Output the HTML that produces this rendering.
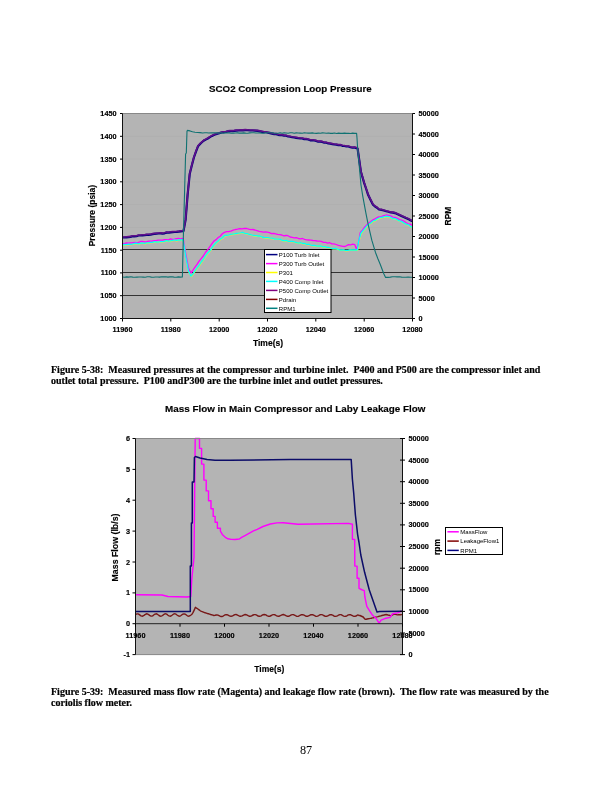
<!DOCTYPE html>
<html><head><meta charset="utf-8">
<style>
html,body{margin:0;padding:0;background:#fff;}
body{width:612px;height:792px;position:relative;overflow:hidden;}
svg{position:absolute;left:0;top:0;will-change:transform;}
.t{font-family:"Liberation Sans",sans-serif;font-weight:bold;fill:#000;stroke:#000;stroke-width:0.15px;}
.l{font-family:"Liberation Sans",sans-serif;fill:#000;}
.cap{position:absolute;left:51px;font-family:"Liberation Serif",serif;font-weight:bold;font-size:10px;line-height:11px;color:#000;white-space:nowrap;will-change:transform;-webkit-text-stroke:0.2px #000;}
.pg{position:absolute;will-change:transform;font-family:"Liberation Serif",serif;font-size:12px;color:#000;}
</style></head><body>
<svg width="612" height="792" viewBox="0 0 612 792">

<text class="t" x="290.4" y="92" font-size="9.78" text-anchor="middle">SCO2 Compression Loop Pressure</text>
<rect x="122.5" y="113.5" width="290.0" height="205.0" fill="#b4b4b4"/>
<line x1="122.5" y1="295.5" x2="412.5" y2="295.5" stroke="#333333" stroke-width="1"/>
<line x1="122.5" y1="272.5" x2="412.5" y2="272.5" stroke="#333333" stroke-width="1"/>
<line x1="122.5" y1="249.5" x2="412.5" y2="249.5" stroke="#333333" stroke-width="1"/>
<line x1="122.5" y1="227.4" x2="412.5" y2="227.4" stroke="#b0b0b0" stroke-width="1"/>
<line x1="122.5" y1="204.6" x2="412.5" y2="204.6" stroke="#b0b0b0" stroke-width="1"/>
<line x1="122.5" y1="181.8" x2="412.5" y2="181.8" stroke="#b0b0b0" stroke-width="1"/>
<line x1="122.5" y1="159.1" x2="412.5" y2="159.1" stroke="#b0b0b0" stroke-width="1"/>
<line x1="122.5" y1="136.3" x2="412.5" y2="136.3" stroke="#b0b0b0" stroke-width="1"/>
<g fill="none" stroke-linejoin="round">
<polyline points="122.5,244.9 124.5,244.5 126.5,244.6 128.5,244.2 130.5,244.3 132.5,244.1 134.5,243.4 136.5,243.2 138.5,243.8 140.5,243.1 142.5,242.9 144.5,243.5 146.5,242.8 148.5,242.9 150.5,242.4 152.5,242.4 154.5,241.7 156.5,242.0 158.5,242.1 160.5,241.6 162.5,241.6 164.5,241.4 166.5,240.6 168.5,241.1 170.5,240.8 172.5,240.3 174.5,239.8 176.5,240.5 178.5,239.9 180.5,240.0 182.5,239.6 183.5,242.0 186.0,258.0 188.5,271.0 191.0,276.2 193.0,273.8 195.0,270.9 197.0,268.0 199.1,265.5 201.2,262.0 203.3,259.5 205.4,256.2 207.5,253.3 209.7,251.0 211.8,248.1 214.0,245.0 216.1,242.7 218.2,240.9 220.2,239.1 222.3,238.0 224.4,235.7 226.4,235.3 228.5,235.1 230.5,234.4 232.5,234.2 234.6,233.8 236.6,233.4 238.6,233.2 240.7,232.9 242.7,232.4 244.9,233.3 247.1,233.6 249.3,234.4 251.4,234.8 253.6,235.5 255.8,235.7 258.0,236.0 260.0,236.0 262.1,237.0 264.1,237.5 266.1,237.7 268.1,237.7 270.2,238.2 272.2,238.1 274.2,239.0 276.3,239.1 278.3,239.1 280.3,239.3 282.4,240.4 284.4,240.8 286.4,240.3 288.4,241.3 290.5,241.3 292.5,241.4 294.5,241.8 296.6,242.6 298.6,243.1 300.6,242.6 302.6,243.5 304.7,243.3 306.7,244.3 308.7,244.2 310.8,245.1 312.8,245.5 314.8,245.4 316.9,246.2 318.9,245.9 320.9,246.0 322.9,246.8 325.0,246.6 327.0,247.4 329.0,247.5 331.1,248.1 333.1,248.6 335.2,248.5 337.2,248.8 339.3,250.0 341.3,250.0 343.5,249.8 345.7,250.5 347.9,250.4 350.0,249.9 352.2,250.0 354.4,250.0 356.6,250.0 357.4,249.8 358.6,241.4 361.0,233.0 363.0,230.7 365.0,228.3 367.0,225.8 369.0,224.3 371.0,222.7 373.0,221.0 375.0,220.4 377.0,219.0 379.0,218.0 381.4,217.3 383.8,217.0 386.2,216.2 388.4,216.5 390.6,217.2 392.8,218.5 395.0,218.6 397.2,219.7 399.4,220.8 401.6,221.4 403.8,222.9 405.9,224.1 408.1,224.6 410.3,226.3 412.5,227.3" transform="translate(0.2,0.3)" stroke="#ffff00" stroke-width="1.3"/>
<polyline points="122.5,243.6 124.5,243.6 126.5,242.8 128.5,243.2 130.5,242.9 132.5,242.9 134.5,242.4 136.5,242.6 138.5,242.4 140.5,241.5 142.5,241.4 144.5,241.8 146.5,241.9 148.5,241.1 150.5,241.1 152.5,241.0 154.5,240.6 156.5,240.5 158.5,240.2 160.5,240.1 162.5,240.2 164.5,239.7 166.5,239.6 168.5,239.8 170.5,238.9 172.5,239.3 174.5,239.2 176.5,238.6 178.5,238.4 180.5,238.8 182.5,238.3 183.3,239.0 185.9,254.6 188.5,268.4 191.1,273.0 194.1,268.4 197.0,264.4 199.1,261.2 201.2,258.6 203.3,256.0 205.4,252.5 207.5,250.0 209.7,246.8 211.8,243.8 214.0,241.0 216.1,239.6 218.2,237.5 220.2,236.2 222.3,233.8 224.4,232.4 226.6,231.7 228.8,231.5 230.9,231.2 233.1,230.2 235.3,229.5 237.5,229.2 239.8,228.6 242.1,228.9 244.4,228.4 246.7,228.5 248.8,229.2 250.8,229.7 252.9,229.5 254.9,230.0 257.0,230.7 259.1,231.4 261.1,231.6 263.2,232.1 265.3,232.0 267.3,232.2 269.4,232.7 271.5,233.6 273.6,233.4 275.6,233.8 277.7,234.3 279.8,234.6 281.8,235.0 283.9,235.9 286.0,235.5 288.0,235.7 290.1,237.0 292.2,237.3 294.2,237.8 296.3,237.6 298.4,238.5 300.5,238.8 302.5,238.5 304.6,239.3 306.7,239.8 308.7,240.0 310.8,240.2 312.9,240.5 315.0,240.6 317.1,241.0 319.2,241.2 321.3,241.4 323.5,242.3 325.6,242.3 327.7,243.1 329.8,242.7 331.9,243.9 334.0,243.8 336.2,244.5 338.4,245.3 340.6,245.8 342.8,246.4 345.0,246.5 348.5,244.7 350.6,244.8 352.7,244.2 354.8,244.7 356.6,249.2 358.3,244.0 360.3,232.5 362.5,230.2 364.8,227.0 367.0,224.8 369.0,222.9 371.0,221.6 373.0,219.8 375.0,218.8 377.0,217.7 379.0,216.8 381.4,216.6 383.8,215.7 386.2,215.0 388.4,215.4 390.6,215.9 392.8,217.1 395.0,217.3 397.2,218.3 399.4,219.6 401.6,220.2 403.8,221.1 405.9,222.5 408.1,223.8 410.3,224.1 412.5,225.5" stroke="#ff00ff" stroke-width="1.3"/>
<polyline points="122.5,244.9 124.5,244.5 126.5,244.6 128.5,244.2 130.5,244.3 132.5,244.1 134.5,243.4 136.5,243.2 138.5,243.8 140.5,243.1 142.5,242.9 144.5,243.5 146.5,242.8 148.5,242.9 150.5,242.4 152.5,242.4 154.5,241.7 156.5,242.0 158.5,242.1 160.5,241.6 162.5,241.6 164.5,241.4 166.5,240.6 168.5,241.1 170.5,240.8 172.5,240.3 174.5,239.8 176.5,240.5 178.5,239.9 180.5,240.0 182.5,239.6 183.5,242.0 186.0,258.0 188.5,271.0 191.0,276.2 193.0,273.8 195.0,270.9 197.0,268.0 199.1,265.5 201.2,262.0 203.3,259.5 205.4,256.2 207.5,253.3 209.7,251.0 211.8,248.1 214.0,245.0 216.1,242.7 218.2,240.9 220.2,239.1 222.3,238.0 224.4,235.7 226.4,235.3 228.5,235.1 230.5,234.4 232.5,234.2 234.6,233.8 236.6,233.4 238.6,233.2 240.7,232.9 242.7,232.4 244.9,233.3 247.1,233.6 249.3,234.4 251.4,234.8 253.6,235.5 255.8,235.7 258.0,236.0 260.0,236.0 262.1,237.0 264.1,237.5 266.1,237.7 268.1,237.7 270.2,238.2 272.2,238.1 274.2,239.0 276.3,239.1 278.3,239.1 280.3,239.3 282.4,240.4 284.4,240.8 286.4,240.3 288.4,241.3 290.5,241.3 292.5,241.4 294.5,241.8 296.6,242.6 298.6,243.1 300.6,242.6 302.6,243.5 304.7,243.3 306.7,244.3 308.7,244.2 310.8,245.1 312.8,245.5 314.8,245.4 316.9,246.2 318.9,245.9 320.9,246.0 322.9,246.8 325.0,246.6 327.0,247.4 329.0,247.5 331.1,248.1 333.1,248.6 335.2,248.5 337.2,248.8 339.3,250.0 341.3,250.0 343.5,249.8 345.7,250.5 347.9,250.4 350.0,249.9 352.2,250.0 354.4,250.0 356.6,250.0 357.4,249.8 358.6,241.4 361.0,233.0 363.0,230.7 365.0,228.3 367.0,225.8 369.0,224.3 371.0,222.7 373.0,221.0 375.0,220.4 377.0,219.0 379.0,218.0 381.4,217.3 383.8,217.0 386.2,216.2 388.4,216.5 390.6,217.2 392.8,218.5 395.0,218.6 397.2,219.7 399.4,220.8 401.6,221.4 403.8,222.9 405.9,224.1 408.1,224.6 410.3,226.3 412.5,227.3" stroke="#00ffff" stroke-width="1.3"/>
<polyline points="122.5,237.0 124.5,237.0 126.5,236.8 128.5,236.6 130.5,236.4 132.5,235.7 134.5,235.8 136.5,235.7 138.6,235.0 140.6,235.0 142.6,234.8 144.6,234.7 146.6,234.4 148.6,234.3 150.6,234.2 152.6,233.6 154.6,233.4 156.6,233.2 158.6,233.0 160.6,232.8 162.6,233.1 164.6,232.8 166.6,232.1 168.7,232.2 170.7,231.8 172.7,231.6 174.7,231.5 176.7,231.4 178.7,231.2 180.7,230.8 182.7,230.7 183.5,230.5 185.6,219.4 187.6,194.4 189.7,173.6 191.8,165.1 193.9,157.0 195.9,151.3 198.0,145.8 200.8,142.8 203.6,140.3 205.7,139.1 207.8,138.0 209.9,136.6 212.0,135.4 214.4,134.3 216.8,133.5 219.3,132.8 221.7,132.0 223.8,131.7 225.8,131.5 227.9,130.9 230.0,130.6 232.2,130.6 234.3,130.4 236.5,130.1 238.7,130.0 240.9,129.9 243.0,129.9 245.2,129.6 247.6,129.7 250.1,130.0 252.6,130.0 255.0,130.2 257.5,130.4 260.0,130.9 262.0,131.3 264.0,131.7 266.0,131.7 268.0,132.2 270.0,132.6 272.1,133.2 274.1,133.6 276.1,133.6 278.1,134.3 280.1,134.6 282.1,134.6 284.1,135.1 286.1,135.2 288.1,136.0 290.1,136.2 292.1,136.7 294.1,137.0 296.1,137.3 298.2,137.7 300.2,137.9 302.2,138.0 304.2,138.6 306.2,138.6 308.2,139.0 310.2,139.8 312.2,139.7 314.2,140.0 316.2,140.4 318.2,141.2 320.2,141.1 322.3,141.4 324.3,142.2 326.3,142.2 328.3,142.9 330.3,143.2 332.3,143.6 334.3,144.0 336.3,144.2 338.3,144.6 340.3,144.5 342.3,145.3 344.3,145.5 346.4,146.0 348.4,146.0 350.4,146.7 352.4,147.2 354.4,147.0 356.4,147.6 357.6,148.2 359.0,158.0 360.9,171.2 364.2,182.6 366.2,188.5 368.2,194.6 370.6,199.4 373.0,204.2 375.0,206.0 377.0,207.2 379.0,209.0 381.4,209.4 383.8,210.0 386.2,210.8 388.4,211.3 390.6,211.9 392.8,212.1 395.0,212.6 397.1,213.5 399.3,214.5 401.4,215.5 403.6,216.5 405.8,217.5 408.1,218.4 410.3,219.7 412.5,220.7" transform="translate(0,0.5)" stroke="#000080" stroke-width="2.2"/>
<polyline points="122.5,237.0 124.5,237.0 126.5,236.8 128.5,236.6 130.5,236.4 132.5,235.7 134.5,235.8 136.5,235.7 138.6,235.0 140.6,235.0 142.6,234.8 144.6,234.7 146.6,234.4 148.6,234.3 150.6,234.2 152.6,233.6 154.6,233.4 156.6,233.2 158.6,233.0 160.6,232.8 162.6,233.1 164.6,232.8 166.6,232.1 168.7,232.2 170.7,231.8 172.7,231.6 174.7,231.5 176.7,231.4 178.7,231.2 180.7,230.8 182.7,230.7 183.5,230.5 185.6,219.4 187.6,194.4 189.7,173.6 191.8,165.1 193.9,157.0 195.9,151.3 198.0,145.8 200.8,142.8 203.6,140.3 205.7,139.1 207.8,138.0 209.9,136.6 212.0,135.4 214.4,134.3 216.8,133.5 219.3,132.8 221.7,132.0 223.8,131.7 225.8,131.5 227.9,130.9 230.0,130.6 232.2,130.6 234.3,130.4 236.5,130.1 238.7,130.0 240.9,129.9 243.0,129.9 245.2,129.6 247.6,129.7 250.1,130.0 252.6,130.0 255.0,130.2 257.5,130.4 260.0,130.9 262.0,131.3 264.0,131.7 266.0,131.7 268.0,132.2 270.0,132.6 272.1,133.2 274.1,133.6 276.1,133.6 278.1,134.3 280.1,134.6 282.1,134.6 284.1,135.1 286.1,135.2 288.1,136.0 290.1,136.2 292.1,136.7 294.1,137.0 296.1,137.3 298.2,137.7 300.2,137.9 302.2,138.0 304.2,138.6 306.2,138.6 308.2,139.0 310.2,139.8 312.2,139.7 314.2,140.0 316.2,140.4 318.2,141.2 320.2,141.1 322.3,141.4 324.3,142.2 326.3,142.2 328.3,142.9 330.3,143.2 332.3,143.6 334.3,144.0 336.3,144.2 338.3,144.6 340.3,144.5 342.3,145.3 344.3,145.5 346.4,146.0 348.4,146.0 350.4,146.7 352.4,147.2 354.4,147.0 356.4,147.6 357.6,148.2 359.0,158.0 360.9,171.2 364.2,182.6 366.2,188.5 368.2,194.6 370.6,199.4 373.0,204.2 375.0,206.0 377.0,207.2 379.0,209.0 381.4,209.4 383.8,210.0 386.2,210.8 388.4,211.3 390.6,211.9 392.8,212.1 395.0,212.6 397.1,213.5 399.3,214.5 401.4,215.5 403.6,216.5 405.8,217.5 408.1,218.4 410.3,219.7 412.5,220.7" stroke="#60108a" stroke-width="1.6"/>
<polyline points="122.5,277.0 124.6,277.3 126.6,276.9 128.7,277.1 130.8,276.8 132.8,277.1 134.9,277.2 137.0,277.1 139.0,277.0 141.1,277.0 143.2,277.1 145.2,277.2 147.3,276.8 149.4,276.8 151.4,277.1 153.5,277.2 155.5,277.0 157.6,277.0 159.7,277.1 161.7,276.8 163.8,276.9 165.9,276.8 167.9,277.1 170.0,276.9 172.1,276.8 174.1,277.1 176.2,277.3 178.3,276.9 180.3,277.1 182.4,277.0 182.8,260.0 183.4,235.0 185.6,154.0 186.3,153.0 187.0,131.0 187.5,130.4 190.0,130.9 192.5,131.8 195.0,132.2 197.6,132.5 200.1,132.6 202.7,133.0 204.7,132.8 206.8,132.7 208.8,133.0 210.9,132.9 212.9,132.8 215.0,132.9 217.0,132.9 219.1,133.1 221.1,132.8 223.2,133.3 225.2,132.9 227.3,133.0 229.3,132.9 231.3,133.2 233.4,133.1 235.4,133.0 237.5,132.9 239.5,133.1 241.6,133.1 243.6,132.9 245.7,133.1 247.7,133.2 249.8,132.9 251.8,132.8 253.9,132.8 255.9,133.0 258.0,133.0 260.0,132.9 262.0,133.2 264.0,133.1 266.0,132.8 268.1,132.7 270.1,132.8 272.1,132.8 274.1,133.1 276.1,133.2 278.1,133.2 280.1,132.8 282.1,133.2 284.1,132.9 286.2,133.0 288.2,133.2 290.2,132.8 292.2,132.8 294.2,133.2 296.2,132.9 298.2,133.0 300.2,133.1 302.3,133.2 304.3,132.8 306.3,133.0 308.3,133.1 310.3,133.1 312.3,132.9 314.3,133.2 316.4,133.4 318.4,133.1 320.4,133.2 322.4,132.9 324.4,133.0 326.4,133.3 328.4,133.0 330.4,133.4 332.5,133.4 334.5,133.0 336.5,133.5 338.5,133.1 340.5,133.4 342.5,133.4 344.5,133.1 346.5,133.4 348.6,133.4 350.6,133.5 352.6,133.1 354.6,133.4 356.6,133.3 357.0,138.0 357.6,148.0 361.0,185.0 362.8,196.4 365.8,212.6 368.2,224.6 371.8,240.2 375.4,252.2 377.8,258.5 380.2,264.2 383.8,273.8 385.6,277.4 388.0,277.4 390.3,277.1 392.6,276.7 395.0,276.8 397.2,276.9 399.4,276.8 401.6,277.1 403.8,277.2 405.9,277.2 408.1,277.0 410.3,277.3 412.5,277.3" stroke="#107272" stroke-width="1.1"/>
</g>
<rect x="264.5" y="249.5" width="66.5" height="63" fill="#fff" stroke="#000" stroke-width="1"/>
<line x1="266" y1="254.6" x2="277.5" y2="254.6" stroke="#000080" stroke-width="1.5"/>
<text class="l" x="278.8" y="256.8" font-size="6">P100 Turb Inlet</text>
<line x1="266" y1="263.6" x2="277.5" y2="263.6" stroke="#ff00ff" stroke-width="1.5"/>
<text class="l" x="278.8" y="265.8" font-size="6">P300 Turb Outlet</text>
<line x1="266" y1="272.5" x2="277.5" y2="272.5" stroke="#ffff00" stroke-width="1.5"/>
<text class="l" x="278.8" y="274.7" font-size="6">P301</text>
<line x1="266" y1="281.4" x2="277.5" y2="281.4" stroke="#00ffff" stroke-width="1.5"/>
<text class="l" x="278.8" y="283.6" font-size="6">P400 Comp Inlet</text>
<line x1="266" y1="290.4" x2="277.5" y2="290.4" stroke="#800080" stroke-width="1.5"/>
<text class="l" x="278.8" y="292.6" font-size="6">P500 Comp Outlet</text>
<line x1="266" y1="299.4" x2="277.5" y2="299.4" stroke="#800000" stroke-width="1.5"/>
<text class="l" x="278.8" y="301.6" font-size="6">Pdrain</text>
<line x1="266" y1="308.3" x2="277.5" y2="308.3" stroke="#008080" stroke-width="1.5"/>
<text class="l" x="278.8" y="310.5" font-size="6">RPM1</text>
<path d="M122.5,113.5 H412.5" fill="none" stroke="#888" stroke-width="1"/>
<path d="M412.5,113.5 V318.5 H122.5 V113.5" fill="none" stroke="#111" stroke-width="1"/>
<text class="t" x="116.6" y="116.0" font-size="7.3" text-anchor="end">1450</text>
<text class="t" x="116.6" y="138.8" font-size="7.3" text-anchor="end">1400</text>
<text class="t" x="116.6" y="161.6" font-size="7.3" text-anchor="end">1350</text>
<text class="t" x="116.6" y="184.3" font-size="7.3" text-anchor="end">1300</text>
<text class="t" x="116.6" y="207.1" font-size="7.3" text-anchor="end">1250</text>
<text class="t" x="116.6" y="229.9" font-size="7.3" text-anchor="end">1200</text>
<text class="t" x="116.6" y="252.7" font-size="7.3" text-anchor="end">1150</text>
<text class="t" x="116.6" y="275.4" font-size="7.3" text-anchor="end">1100</text>
<text class="t" x="116.6" y="298.2" font-size="7.3" text-anchor="end">1050</text>
<text class="t" x="116.6" y="321.0" font-size="7.3" text-anchor="end">1000</text>
<text class="t" x="418.5" y="116.0" font-size="7.3">50000</text>
<text class="t" x="418.5" y="136.5" font-size="7.3">45000</text>
<text class="t" x="418.5" y="157.0" font-size="7.3">40000</text>
<text class="t" x="418.5" y="177.5" font-size="7.3">35000</text>
<text class="t" x="418.5" y="198.0" font-size="7.3">30000</text>
<text class="t" x="418.5" y="218.5" font-size="7.3">25000</text>
<text class="t" x="418.5" y="239.0" font-size="7.3">20000</text>
<text class="t" x="418.5" y="259.5" font-size="7.3">15000</text>
<text class="t" x="418.5" y="280.0" font-size="7.3">10000</text>
<text class="t" x="418.5" y="300.5" font-size="7.3">5000</text>
<text class="t" x="418.5" y="321.0" font-size="7.3">0</text>
<text class="t" x="122.5" y="332" font-size="7.3" text-anchor="middle">11960</text>
<text class="t" x="170.8" y="332" font-size="7.3" text-anchor="middle">11980</text>
<text class="t" x="219.2" y="332" font-size="7.3" text-anchor="middle">12000</text>
<text class="t" x="267.5" y="332" font-size="7.3" text-anchor="middle">12020</text>
<text class="t" x="315.8" y="332" font-size="7.3" text-anchor="middle">12040</text>
<text class="t" x="364.2" y="332" font-size="7.3" text-anchor="middle">12060</text>
<text class="t" x="412.5" y="332" font-size="7.3" text-anchor="middle">12080</text>
<path d="M120.0,113.5 H122.5 M120.0,136.3 H122.5 M120.0,159.1 H122.5 M120.0,181.8 H122.5 M120.0,204.6 H122.5 M120.0,227.4 H122.5 M120.0,250.2 H122.5 M120.0,272.9 H122.5 M120.0,295.7 H122.5 M120.0,318.5 H122.5 M412.5,113.5 H415.0 M412.5,134.0 H415.0 M412.5,154.5 H415.0 M412.5,175.0 H415.0 M412.5,195.5 H415.0 M412.5,216.0 H415.0 M412.5,236.5 H415.0 M412.5,257.0 H415.0 M412.5,277.5 H415.0 M412.5,298.0 H415.0 M412.5,318.5 H415.0 M122.5,318.5 V321.5 M170.8,318.5 V321.5 M219.2,318.5 V321.5 M267.5,318.5 V321.5 M315.8,318.5 V321.5 M364.2,318.5 V321.5 M412.5,318.5 V321.5" stroke="#000" stroke-width="1" fill="none"/>
<text class="t" x="268" y="345.5" font-size="8.5" text-anchor="middle">Time(s)</text>
<text class="t" transform="translate(94.6,215.6) rotate(-90)" font-size="8.5" text-anchor="middle">Pressure (psia)</text>
<text class="t" transform="translate(450.7,216) rotate(-90)" font-size="8.5" text-anchor="middle">RPM</text>
<text class="t" x="295.3" y="412" font-size="9.85" text-anchor="middle">Mass Flow in Main Compressor and Laby Leakage Flow</text>
<rect x="135.5" y="438.5" width="267.0" height="216.10000000000002" fill="#b4b4b4"/>
<g fill="none" stroke-linejoin="round">
<polyline points="136.0,614.4 137.0,613.9 138.0,613.9 139.0,614.4 140.0,615.1 141.0,615.9 142.0,616.2 143.0,616.0 144.0,615.4 145.0,614.6 146.0,614.0 147.0,613.8 148.0,614.2 149.0,614.9 150.0,615.7 151.0,616.1 152.0,616.1 153.0,615.6 154.0,614.8 155.0,614.1 156.0,613.8 157.0,614.0 158.0,614.7 159.0,615.5 160.0,616.0 161.0,616.2 162.0,615.8 163.0,615.1 164.0,614.3 165.0,613.8 166.0,613.9 167.0,614.4 168.0,615.2 169.0,615.9 170.0,616.2 171.0,616.0 172.0,615.3 173.0,614.5 174.0,613.9 175.0,613.8 176.0,614.2 177.0,615.0 178.0,615.7 179.0,616.2 180.0,616.1 181.0,615.5 182.0,614.7 183.0,614.1 184.0,613.8 185.0,614.1 186.0,614.7 187.0,615.5 188.0,616.1 189.0,616.2 190.0,615.7 191.0,615.0 192.0,614.2 193.1,612.4 194.3,609.9 195.4,607.3 196.6,608.2 197.9,609.0 199.1,609.9 200.3,610.8 201.5,611.3 202.8,611.8 204.0,612.3 205.2,612.8 206.3,613.1 207.4,613.5 208.5,613.8 209.6,614.1 210.6,614.5 211.7,614.8 212.8,615.1 213.9,615.5 215.0,615.4 216.0,615.0 217.0,614.9 218.0,615.1 219.0,615.6 220.0,616.2 221.0,616.5 222.0,616.5 223.0,616.1 224.0,615.5 225.0,614.9 226.0,614.6 227.0,614.7 228.0,615.1 229.0,615.7 230.0,616.1 231.0,616.3 232.0,616.1 233.0,615.6 234.0,615.0 235.0,614.6 236.0,614.5 237.0,614.8 238.1,615.4 239.1,615.9 240.1,616.3 241.1,616.2 242.1,615.9 243.1,615.3 244.1,614.8 245.1,614.5 246.1,614.7 247.1,615.1 248.1,615.7 249.1,616.2 250.1,616.3 251.1,616.1 252.2,615.5 253.2,615.0 254.2,614.6 255.2,614.6 256.2,614.9 257.2,615.5 258.2,616.0 259.2,616.3 260.2,616.2 261.2,615.8 262.2,615.2 263.2,614.7 264.2,614.5 265.2,614.7 266.3,615.2 267.3,615.8 268.3,616.2 269.3,616.3 270.3,616.0 271.3,615.5 272.3,614.9 273.3,614.6 274.3,614.6 275.3,615.0 276.3,615.6 277.3,616.1 278.3,616.3 279.3,616.2 280.3,615.7 281.4,615.2 282.4,614.7 283.4,614.5 284.4,614.8 285.4,615.3 286.4,615.9 287.4,616.3 288.4,616.3 289.4,616.0 290.4,615.4 291.4,614.9 292.4,614.6 293.4,614.6 294.4,615.1 295.5,615.7 296.5,616.2 297.5,616.4 298.5,616.2 299.5,615.7 300.5,615.1 301.5,614.7 302.5,614.6 303.5,614.9 304.5,615.4 305.5,616.0 306.5,616.3 307.5,616.3 308.5,615.9 309.6,615.3 310.6,614.8 311.6,614.6 312.6,614.7 313.6,615.2 314.6,615.7 315.6,616.2 316.6,616.4 317.6,616.1 318.6,615.6 319.6,615.0 320.6,614.6 321.6,614.6 322.6,614.9 323.6,615.5 324.7,616.0 325.7,616.4 326.7,616.3 327.7,615.9 328.7,615.3 329.7,614.8 330.7,614.6 331.7,614.8 332.7,615.2 333.7,615.8 334.7,616.3 335.7,616.4 336.7,616.1 337.7,615.6 338.8,615.0 339.8,614.6 340.8,614.6 341.8,615.0 342.8,615.6 343.8,616.1 344.8,616.4 345.8,616.3 346.8,615.8 347.8,615.2 348.8,614.8 349.8,614.6 350.8,614.8 351.8,615.3 352.9,615.9 353.9,616.3 354.9,616.4 355.9,616.0 356.9,615.5 357.9,614.9 358.9,615.5 359.9,615.5 361.0,616.0 362.1,616.5 363.2,617.0 364.2,618.2 365.2,619.4 366.2,619.2 367.2,619.0 368.2,618.8 369.3,618.6 370.3,618.4 371.3,618.2 372.4,617.9 373.5,617.7 374.6,617.4 375.7,617.1 376.8,616.9 377.9,616.6 378.9,616.3 379.9,616.1 380.9,615.8 381.9,615.5 383.0,615.3 384.0,615.0 385.0,614.8 386.0,614.5 387.0,614.7 388.0,615.0 389.0,615.2 390.0,615.5 391.0,615.7 392.1,615.2 393.1,614.6 394.2,614.1 395.3,614.4 396.4,614.6 397.5,614.9 398.5,614.8 399.5,614.7 400.5,614.7 401.5,614.6 402.5,614.5" stroke="#781818" stroke-width="1.4"/>
<polyline points="136.0,594.8 162.0,595.0 168.0,596.5 187.0,597.0 190.8,596.5 191.8,579.0 194.0,557.5 195.2,438.5 199.5,438.5 199.5,448.4 201.6,448.4 201.6,464.1 203.9,464.1 203.9,480.1 206.2,480.1 206.2,490.9 208.5,490.9 208.5,500.7 211.0,500.7 211.0,508.8 213.2,508.8 213.2,516.4 215.1,516.4 215.1,522.3 217.4,522.3 217.4,528.2 220.4,528.2 220.4,531.1 222.3,534.4 225.3,537.3 228.0,538.8 231.1,539.4 235.0,539.5 239.3,539.0 241.6,537.4 245.0,535.6 249.0,533.4 253.0,531.2 257.2,529.3 263.0,526.5 270.3,524.0 277.0,522.9 283.3,522.7 298.0,524.2 348.5,523.4 352.4,524.2 352.4,539.2 354.7,539.5 354.8,566.1 357.1,566.1 357.1,578.2 359.0,578.2 359.0,588.3 362.4,590.0 364.3,590.6 364.8,596.5 366.8,606.3 369.3,610.4 372.6,615.3 376.2,618.6 379.1,623.1 381.1,620.2 386.0,618.2 390.1,617.4 392.6,613.7 397.5,612.9 402.5,610.8" stroke="#ff00ff" stroke-width="1.4"/>
<polyline points="136.0,611.5 190.3,611.5 190.3,566.0 191.4,566.0 191.4,523.0 192.3,523.0 192.3,482.0 194.0,482.0 194.4,457.5 195.5,456.5 200.0,458.0 207.0,459.5 215.0,460.3 230.0,460.3 290.0,459.6 351.2,459.6 352.4,479.2 353.7,493.0 355.4,515.0 356.7,526.4 357.6,534.3 359.0,542.5 360.8,555.0 364.6,572.3 369.3,590.0 377.0,612.0 379.5,611.6 402.5,611.2" stroke="#0c0c68" stroke-width="1.5"/>
</g>
<path d="M135.5,438.5 H402.5 M135.5,654.6 H402.5" fill="none" stroke="#888" stroke-width="1"/>
<path d="M135.5,623.7 H402.5" fill="none" stroke="#222" stroke-width="1"/>
<path d="M135.5,438.5 V654.6 M402.5,438.5 V654.6" fill="none" stroke="#111" stroke-width="1"/>
<text class="t" x="130" y="441.0" font-size="7.3" text-anchor="end">6</text>
<text class="t" x="130" y="471.9" font-size="7.3" text-anchor="end">5</text>
<text class="t" x="130" y="502.7" font-size="7.3" text-anchor="end">4</text>
<text class="t" x="130" y="533.6" font-size="7.3" text-anchor="end">3</text>
<text class="t" x="130" y="564.5" font-size="7.3" text-anchor="end">2</text>
<text class="t" x="130" y="595.4" font-size="7.3" text-anchor="end">1</text>
<text class="t" x="130" y="626.2" font-size="7.3" text-anchor="end">0</text>
<text class="t" x="130" y="657.1" font-size="7.3" text-anchor="end">-1</text>
<text class="t" x="408.5" y="441.0" font-size="7.3">50000</text>
<text class="t" x="408.5" y="462.6" font-size="7.3">45000</text>
<text class="t" x="408.5" y="484.2" font-size="7.3">40000</text>
<text class="t" x="408.5" y="505.8" font-size="7.3">35000</text>
<text class="t" x="408.5" y="527.4" font-size="7.3">30000</text>
<text class="t" x="408.5" y="549.0" font-size="7.3">25000</text>
<text class="t" x="408.5" y="570.7" font-size="7.3">20000</text>
<text class="t" x="408.5" y="592.3" font-size="7.3">15000</text>
<text class="t" x="408.5" y="613.9" font-size="7.3">10000</text>
<text class="t" x="408.5" y="635.5" font-size="7.3">5000</text>
<text class="t" x="408.5" y="657.1" font-size="7.3">0</text>
<text class="t" x="135.5" y="637.5" font-size="7.3" text-anchor="middle">11960</text>
<text class="t" x="180.0" y="637.5" font-size="7.3" text-anchor="middle">11980</text>
<text class="t" x="224.5" y="637.5" font-size="7.3" text-anchor="middle">12000</text>
<text class="t" x="269.0" y="637.5" font-size="7.3" text-anchor="middle">12020</text>
<text class="t" x="313.5" y="637.5" font-size="7.3" text-anchor="middle">12040</text>
<text class="t" x="358.0" y="637.5" font-size="7.3" text-anchor="middle">12060</text>
<text class="t" x="402.5" y="637.5" font-size="7.3" text-anchor="middle">12080</text>
<path d="M132.5,438.5 H135.5 M132.5,469.4 H135.5 M132.5,500.2 H135.5 M132.5,531.1 H135.5 M132.5,562.0 H135.5 M132.5,592.9 H135.5 M132.5,623.7 H135.5 M132.5,654.6 H135.5 M400.0,438.5 H405.0 M400.0,460.1 H405.0 M400.0,481.7 H405.0 M400.0,503.3 H405.0 M400.0,524.9 H405.0 M400.0,546.5 H405.0 M400.0,568.2 H405.0 M400.0,589.8 H405.0 M400.0,611.4 H405.0 M400.0,633.0 H405.0 M400.0,654.6 H405.0 M135.5,623.7 V626.7 M180.0,623.7 V626.7 M224.5,623.7 V626.7 M269.0,623.7 V626.7 M313.5,623.7 V626.7 M358.0,623.7 V626.7 M402.5,623.7 V626.7" stroke="#000" stroke-width="1" fill="none"/>
<text class="t" x="269.3" y="671.6" font-size="8.5" text-anchor="middle">Time(s)</text>
<text class="t" transform="translate(118.3,547.5) rotate(-90)" font-size="8.8" text-anchor="middle">Mass Flow (lb/s)</text>
<text class="t" transform="translate(439.5,547) rotate(-90)" font-size="8.5" text-anchor="middle">rpm</text>
<rect x="445.5" y="527.5" width="57" height="27" fill="#fff" stroke="#000" stroke-width="1"/>
<line x1="447.4" y1="531.8" x2="458.8" y2="531.8" stroke="#ff00ff" stroke-width="1.5"/>
<text class="l" x="460.3" y="534.0" font-size="6">MassFlow</text>
<line x1="447.4" y1="541.1" x2="458.8" y2="541.1" stroke="#800000" stroke-width="1.5"/>
<text class="l" x="460.3" y="543.3" font-size="6">LeakageFlow1</text>
<line x1="447.4" y1="550.4" x2="458.8" y2="550.4" stroke="#000080" stroke-width="1.5"/>
<text class="l" x="460.3" y="552.6" font-size="6">RPM1</text>
</svg>
<div class="cap" style="top:364px">Figure 5-38:&nbsp; Measured pressures at the compressor and turbine inlet.&nbsp; P400 and P500 are the compressor inlet and<br>outlet total pressure.&nbsp; P100 andP300 are the turbine inlet and outlet pressures.</div>
<div class="cap" style="top:686px">Figure 5-39:&nbsp; Measured mass flow rate (Magenta) and leakage flow rate (brown).&nbsp; The flow rate was measured by the<br>coriolis flow meter.</div>
<div class="pg" style="left:300px;top:743px;font-size:12.2px">87</div>
</body></html>
